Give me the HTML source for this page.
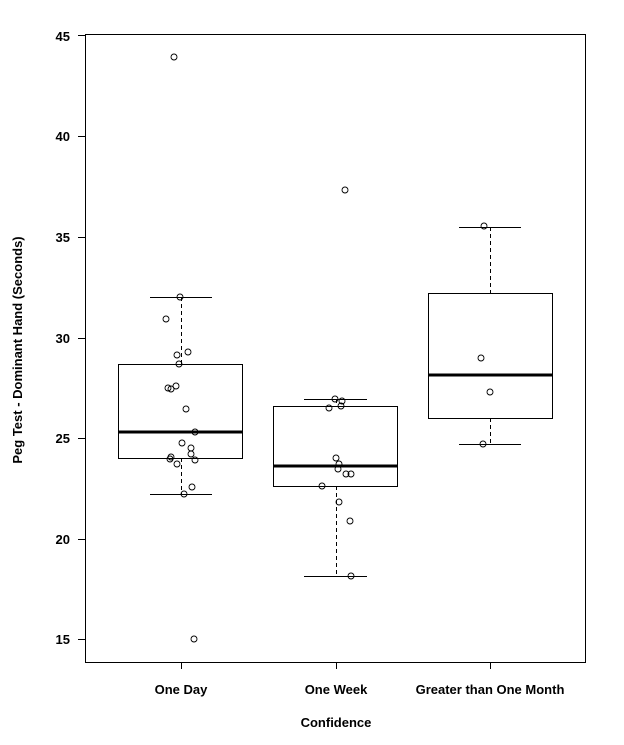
<!DOCTYPE html>
<html><head><style>body{margin:0;background:#fff}</style></head><body>
<svg width="624" height="740" xmlns="http://www.w3.org/2000/svg" font-family="Liberation Sans, sans-serif" font-weight="bold" font-size="13">
<rect x="85.5" y="34.5" width="500" height="628" fill="none" stroke="#000"/>
<g stroke="#000">
<line x1="78" x2="85" y1="35.5" y2="35.5"/><line x1="78" x2="85" y1="136.5" y2="136.5"/><line x1="78" x2="85" y1="237.5" y2="237.5"/><line x1="78" x2="85" y1="338.5" y2="338.5"/><line x1="78" x2="85" y1="438.5" y2="438.5"/><line x1="78" x2="85" y1="539.5" y2="539.5"/><line x1="78" x2="85" y1="639.5" y2="639.5"/>
<line x1="181.5" x2="181.5" y1="662" y2="669"/><line x1="336.5" x2="336.5" y1="662" y2="669"/><line x1="490.5" x2="490.5" y1="662" y2="669"/>
</g>
<g text-anchor="end"><text x="70" y="41">45</text><text x="70" y="141">40</text><text x="70" y="242">35</text><text x="70" y="343">30</text><text x="70" y="443">25</text><text x="70" y="544">20</text><text x="70" y="644">15</text></g>
<g text-anchor="middle"><text x="181" y="694">One Day</text><text x="336" y="694">One Week</text><text x="490" y="694">Greater than One Month</text>
<text x="336" y="727">Confidence</text>
<text transform="translate(22,350) rotate(-90)">Peg Test - Dominant Hand (Seconds)</text></g>
<g stroke="#000" fill="none">
<line x1="181.5" x2="181.5" y1="297" y2="365" stroke-dasharray="4,3"/><line x1="181.5" x2="181.5" y1="458" y2="494" stroke-dasharray="4,3"/>
<line x1="150" x2="212" y1="297.5" y2="297.5"/><line x1="150" x2="212" y1="494.5" y2="494.5"/>
<rect x="118.5" y="364.5" width="124" height="94"/><line x1="118" x2="243" y1="432" y2="432" stroke-width="3"/>
<line x1="336.5" x2="336.5" y1="399" y2="406" stroke-dasharray="4,3"/><line x1="336.5" x2="336.5" y1="486" y2="576" stroke-dasharray="4,3"/>
<line x1="304" x2="367" y1="399.5" y2="399.5"/><line x1="304" x2="367" y1="576.5" y2="576.5"/>
<rect x="273.5" y="406.5" width="124" height="80"/><line x1="273" x2="398" y1="466" y2="466" stroke-width="3"/>
<line x1="490.5" x2="490.5" y1="227" y2="293" stroke-dasharray="4,3"/><line x1="490.5" x2="490.5" y1="418" y2="444" stroke-dasharray="4,3"/>
<line x1="459" x2="521" y1="227.5" y2="227.5"/><line x1="459" x2="521" y1="444.5" y2="444.5"/>
<rect x="428.5" y="293.5" width="124" height="125"/><line x1="428" x2="553" y1="375" y2="375" stroke-width="3"/>
</g>
<g stroke="#000" fill="none" stroke-width="0.9">
<circle cx="180" cy="297" r="3"/><circle cx="166" cy="319" r="3"/><circle cx="177" cy="355" r="3"/><circle cx="188" cy="352" r="3"/><circle cx="179" cy="364" r="3"/><circle cx="168" cy="388" r="3"/><circle cx="171" cy="389" r="3"/><circle cx="176" cy="386" r="3"/><circle cx="186" cy="409" r="3"/><circle cx="195" cy="432" r="3"/><circle cx="182" cy="443" r="3"/><circle cx="191" cy="448" r="3"/><circle cx="191" cy="454" r="3"/><circle cx="171" cy="457" r="3"/><circle cx="170" cy="459" r="3"/><circle cx="177" cy="464" r="3"/><circle cx="195" cy="460" r="3"/><circle cx="192" cy="487" r="3"/><circle cx="184" cy="494" r="3"/><circle cx="174" cy="57" r="3"/><circle cx="194" cy="639" r="3"/>
<circle cx="335" cy="399" r="3"/><circle cx="342" cy="401" r="3"/><circle cx="329" cy="408" r="3"/><circle cx="341" cy="406" r="3"/><circle cx="336" cy="458" r="3"/><circle cx="339" cy="464" r="3"/><circle cx="338" cy="469" r="3"/><circle cx="346" cy="474" r="3"/><circle cx="351" cy="474" r="3"/><circle cx="322" cy="486" r="3"/><circle cx="339" cy="502" r="3"/><circle cx="350" cy="521" r="3"/><circle cx="351" cy="576" r="3"/><circle cx="345" cy="190" r="3"/>
<circle cx="484" cy="226" r="3"/><circle cx="481" cy="358" r="3"/><circle cx="490" cy="392" r="3"/><circle cx="483" cy="444" r="3"/>
</g>
</svg>
</body></html>
